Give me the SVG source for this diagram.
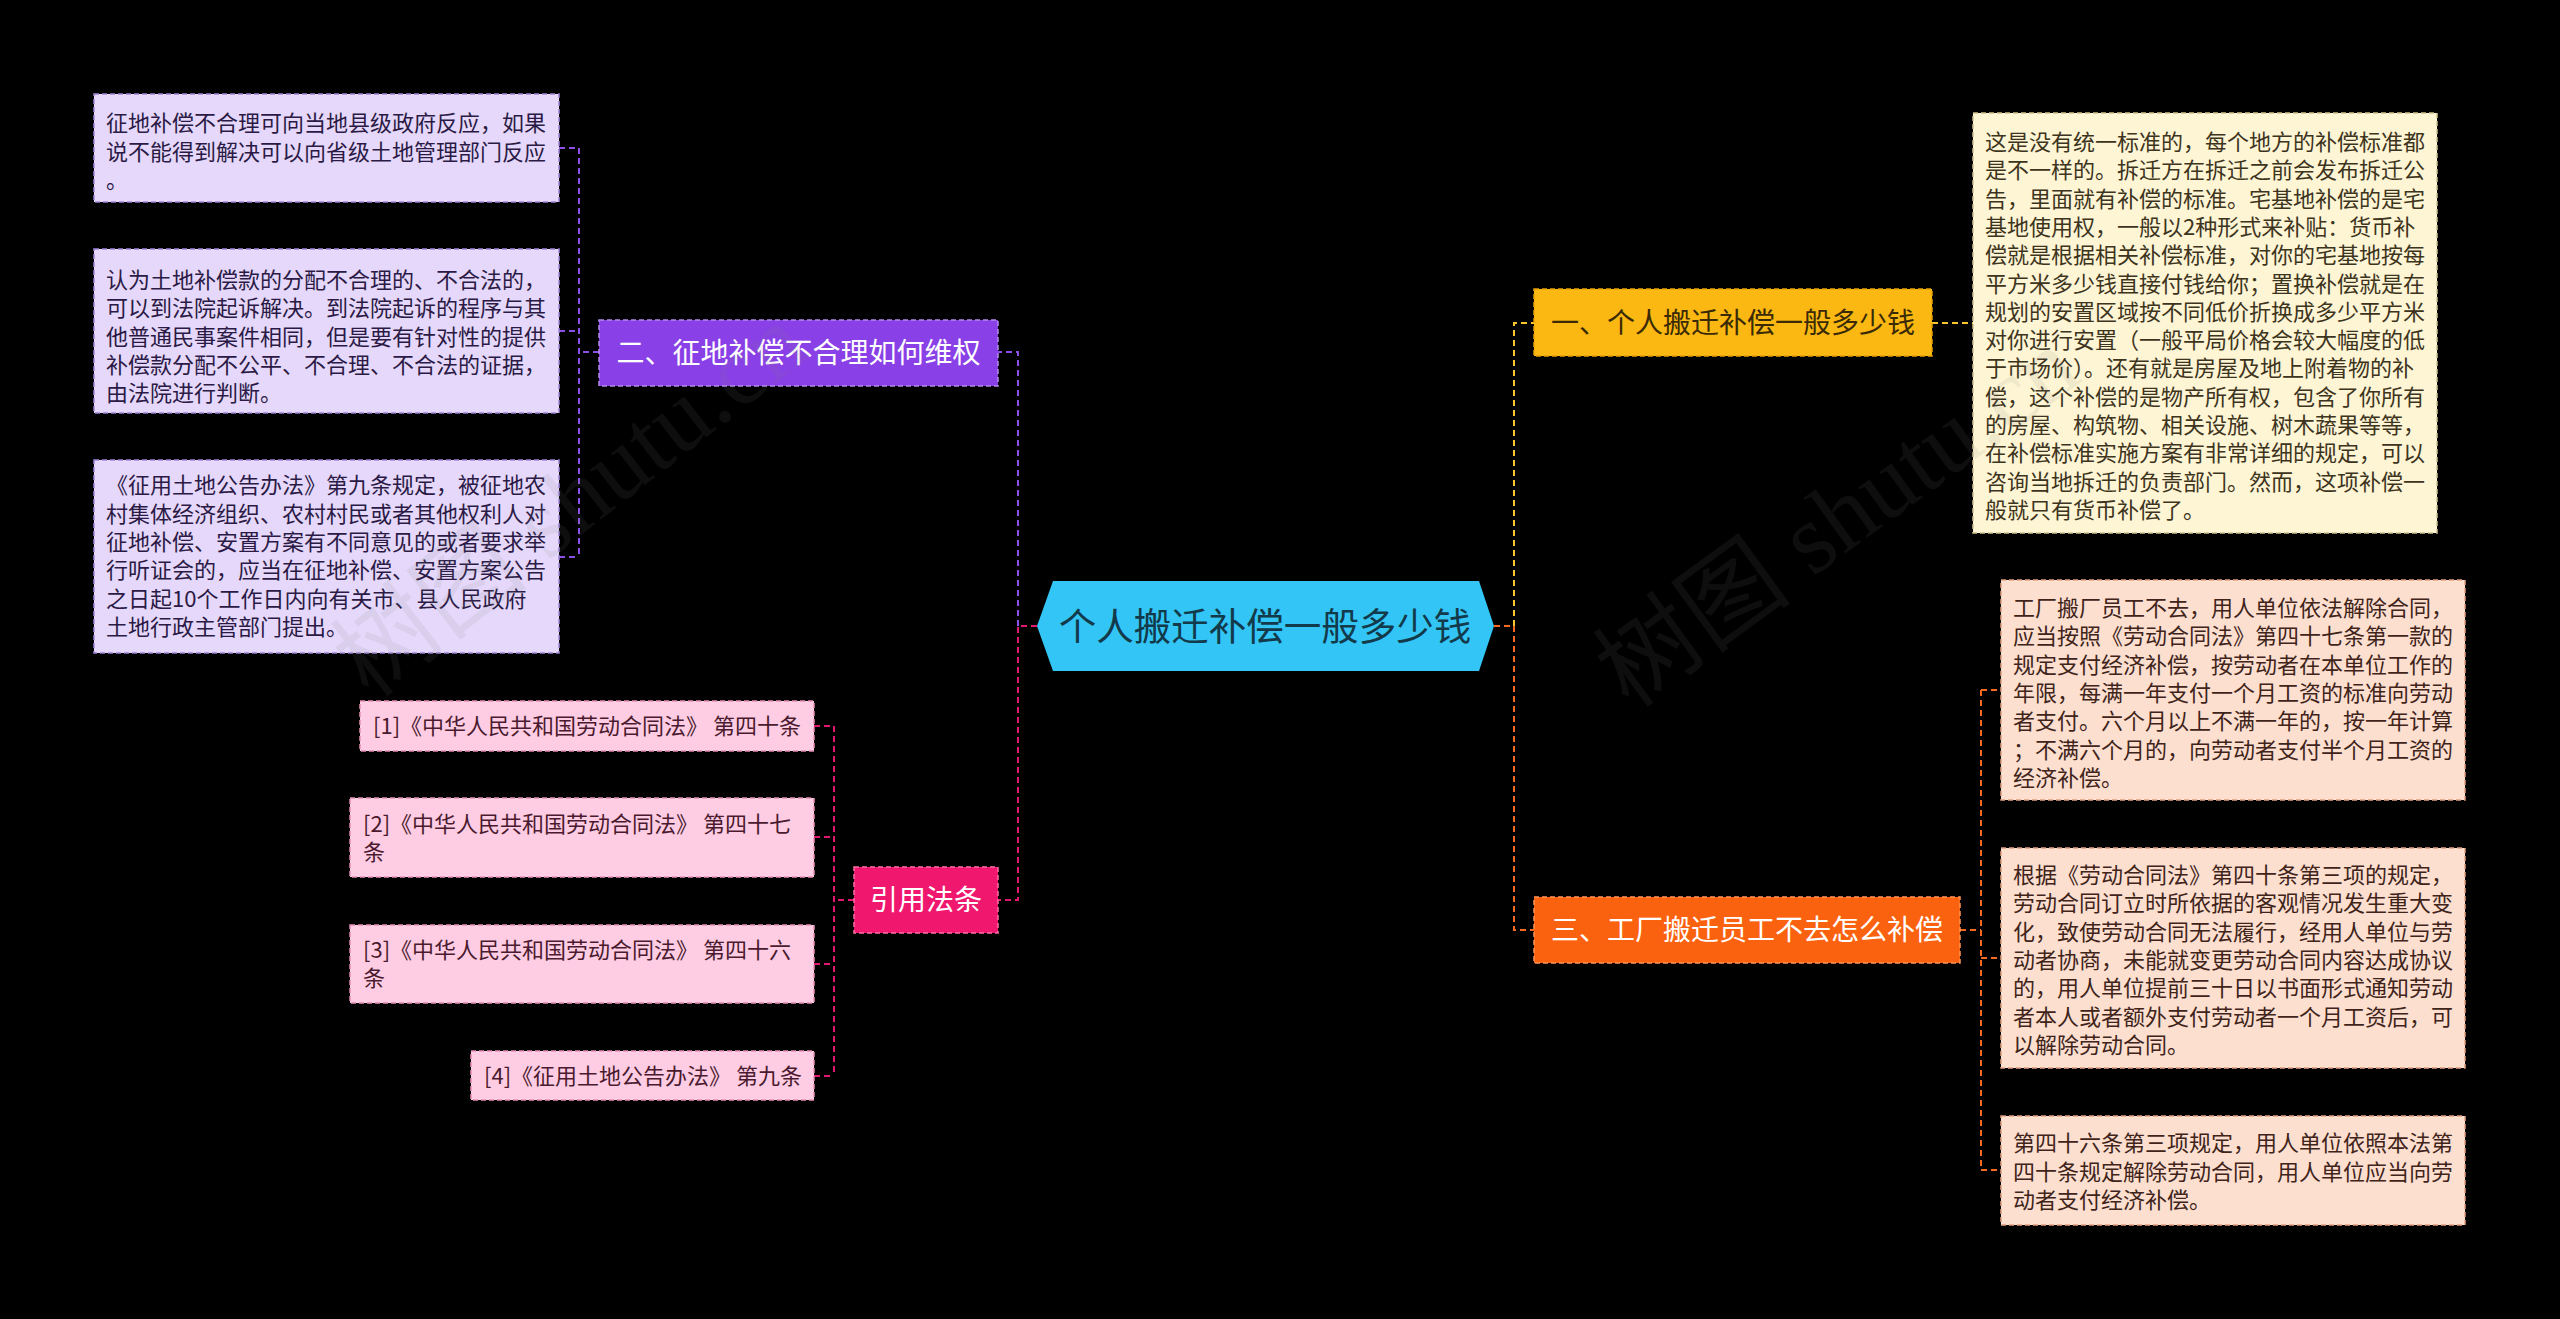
<svg xmlns="http://www.w3.org/2000/svg" width="2560" height="1319" viewBox="0 0 2560 1319">
<style>
text{font-family:"Noto Sans CJK SC","Noto Sans",sans-serif;}
.t22{font-size:22px;}
.t28{font-size:28px;}
.lav{fill:#E5D8FA;stroke:#9F84D6;stroke-width:1.5;stroke-dasharray:5 3;}
.lavt{fill:#2B1A45;}
.pnk{fill:#FFCDE3;stroke:#E58FB5;stroke-width:1.5;stroke-dasharray:5 3;}
.pnkt{fill:#4A1A2E;}
.crm{fill:#FEF5D5;stroke:#CFC08C;stroke-width:1.5;stroke-dasharray:5 3;}
.crmt{fill:#3D3420;}
.pch{fill:#FDDFD0;stroke:#E0A080;stroke-width:1.5;stroke-dasharray:5 3;}
.pcht{fill:#40241A;}
.con{fill:none;stroke-width:2;stroke-dasharray:6 4;}
.wm{font-family:"Liberation Serif","Noto Sans CJK SC",serif;font-size:100px;fill:#808080;fill-opacity:0.11;}
</style>
<rect x="0" y="0" width="2560" height="1319" fill="#000000"/>

<g id="connectors">
  <path class="con" stroke="#8C4FE8" d="M1018,626 V352 H998"/>
  <path class="con" stroke="#8C4FE8" d="M599,352 H579 M579,148 V557 M559,148 H579 M559,331 H579 M559,557 H579"/>
  <path class="con" stroke="#E2176F" d="M1037,626 H1018 V900 H998"/>
  <path class="con" stroke="#E2176F" d="M854,900 H834 M834,726 V1076 M814,726 H834 M814,837 H834 M814,964 H834 M814,1076 H834"/>
  <path class="con" stroke="#F7C62F" d="M1514,626 V323 H1534"/>
  <path class="con" stroke="#F7C62F" d="M1932,323 H1973"/>
  <path class="con" stroke="#F56A1E" d="M1494,626 H1514 V930 H1534"/>
  <path class="con" stroke="#F56A1E" d="M1960,930 H1981 M1981,690 V1170 M1981,690 H2001 M1981,958 H2001 M1981,1170 H2001"/>
</g>

<g id="center">
  <polygon points="1037,626 1053,581 1479,581 1494,626 1479,671 1053,671" fill="#32C5F5"/>
  <text x="1265" y="640" font-size="37.5" text-anchor="middle" fill="#123A4A">个人搬迁补偿一般多少钱</text>
</g>

<g id="branch2">
  <rect x="599" y="320" width="399" height="66" fill="#8940E6" stroke="#B48AF0" stroke-width="1.5" stroke-dasharray="5 3"/>
  <text class="t28" x="798.5" y="363" text-anchor="middle" fill="#FFFFFF">二、征地补偿不合理如何维权</text>
</g>

<g id="left1">
  <rect class="lav" x="94" y="94" width="465" height="108"/>
  <text class="t22 lavt"><tspan x="106" y="131">征地补偿不合理可向当地县级政府反应，如果</tspan><tspan x="106" y="160">说不能得到解决可以向省级土地管理部门反应</tspan><tspan x="106" y="188">。</tspan></text>
</g>

<g id="left2">
  <rect class="lav" x="94" y="249" width="465" height="164"/>
  <text class="t22 lavt"><tspan x="106" y="288">认为土地补偿款的分配不合理的、不合法的，</tspan><tspan x="106" y="316">可以到法院起诉解决。到法院起诉的程序与其</tspan><tspan x="106" y="344.5">他普通民事案件相同，但是要有针对性的提供</tspan><tspan x="106" y="373">补偿款分配不公平、不合理、不合法的证据，</tspan><tspan x="106" y="401">由法院进行判断。</tspan></text>
</g>

<g id="left3">
  <rect class="lav" x="94" y="460" width="465" height="193"/>
  <text class="t22 lavt"><tspan x="106" y="493">《征用土地公告办法》第九条规定，被征地农</tspan><tspan x="106" y="521.5">村集体经济组织、农村村民或者其他权利人对</tspan><tspan x="106" y="550">征地补偿、安置方案有不同意见的或者要求举</tspan><tspan x="106" y="578">行听证会的，应当在征地补偿、安置方案公告</tspan><tspan x="106" y="606.5">之日起10个工作日内向有关市、县人民政府</tspan><tspan x="106" y="635">土地行政主管部门提出。</tspan></text>
</g>

<g id="refs">
  <rect x="854" y="867" width="144" height="66" fill="#F0176F" stroke="#FF6FA6" stroke-width="1.5" stroke-dasharray="5 3"/>
  <text class="t28" x="926" y="910" text-anchor="middle" fill="#FFFFFF">引用法条</text>
</g>

<g id="ref1">
  <rect class="pnk" x="360" y="701" width="454" height="50"/>
  <text class="t22 pnkt" x="373" y="734">[1]《中华人民共和国劳动合同法》 第四十条</text>
</g>
<g id="ref2">
  <rect class="pnk" x="350" y="798" width="464" height="79"/>
  <text class="t22 pnkt"><tspan x="363" y="832">[2]《中华人民共和国劳动合同法》 第四十七</tspan><tspan x="363" y="860">条</tspan></text>
</g>
<g id="ref3">
  <rect class="pnk" x="350" y="925" width="464" height="78"/>
  <text class="t22 pnkt"><tspan x="363" y="958">[3]《中华人民共和国劳动合同法》 第四十六</tspan><tspan x="363" y="986">条</tspan></text>
</g>
<g id="ref4">
  <rect class="pnk" x="471" y="1051" width="343" height="49"/>
  <text class="t22 pnkt" x="484" y="1084">[4]《征用土地公告办法》 第九条</text>
</g>

<g id="branch1">
  <rect x="1534" y="289" width="398" height="67" fill="#FBB812" stroke="#E39E00" stroke-width="1.5" stroke-dasharray="5 3"/>
  <text class="t28" x="1733" y="333" text-anchor="middle" fill="#3A2A05">一、个人搬迁补偿一般多少钱</text>
</g>

<g id="right1">
  <rect class="crm" x="1973" y="113" width="464" height="420"/>
  <text class="t22 crmt"><tspan x="1985" y="150">这是没有统一标准的，每个地方的补偿标准都</tspan><tspan x="1985" y="178.3">是不一样的。拆迁方在拆迁之前会发布拆迁公</tspan><tspan x="1985" y="206.6">告，里面就有补偿的标准。宅基地补偿的是宅</tspan><tspan x="1985" y="234.9">基地使用权，一般以2种形式来补贴：货币补</tspan><tspan x="1985" y="263.2">偿就是根据相关补偿标准，对你的宅基地按每</tspan><tspan x="1985" y="291.5">平方米多少钱直接付钱给你；置换补偿就是在</tspan><tspan x="1985" y="319.8">规划的安置区域按不同低价折换成多少平方米</tspan><tspan x="1985" y="348.1">对你进行安置（一般平局价格会较大幅度的低</tspan><tspan x="1985" y="376.4">于市场价）。还有就是房屋及地上附着物的补</tspan><tspan x="1985" y="404.7">偿，这个补偿的是物产所有权，包含了你所有</tspan><tspan x="1985" y="433">的房屋、构筑物、相关设施、树木蔬果等等，</tspan><tspan x="1985" y="461.3">在补偿标准实施方案有非常详细的规定，可以</tspan><tspan x="1985" y="489.6">咨询当地拆迁的负责部门。然而，这项补偿一</tspan><tspan x="1985" y="517.9">般就只有货币补偿了。</tspan></text>
</g>

<g id="branch3">
  <rect x="1534" y="897" width="426" height="66" fill="#FB620F" stroke="#FF9455" stroke-width="1.5" stroke-dasharray="5 3"/>
  <text class="t28" x="1747" y="940" text-anchor="middle" fill="#FFFFFF">三、工厂搬迁员工不去怎么补偿</text>
</g>

<g id="right2">
  <rect class="pch" x="2001" y="580" width="464" height="220"/>
  <text class="t22 pcht"><tspan x="2013" y="616">工厂搬厂员工不去，用人单位依法解除合同，</tspan><tspan x="2013" y="644.3">应当按照《劳动合同法》第四十七条第一款的</tspan><tspan x="2013" y="672.6">规定支付经济补偿，按劳动者在本单位工作的</tspan><tspan x="2013" y="700.9">年限，每满一年支付一个月工资的标准向劳动</tspan><tspan x="2013" y="729.2">者支付。六个月以上不满一年的，按一年计算</tspan><tspan x="2013" y="757.5">；不满六个月的，向劳动者支付半个月工资的</tspan><tspan x="2013" y="785.8">经济补偿。</tspan></text>
</g>

<g id="right3">
  <rect class="pch" x="2001" y="848" width="464" height="220"/>
  <text class="t22 pcht"><tspan x="2013" y="883">根据《劳动合同法》第四十条第三项的规定，</tspan><tspan x="2013" y="911.3">劳动合同订立时所依据的客观情况发生重大变</tspan><tspan x="2013" y="939.6">化，致使劳动合同无法履行，经用人单位与劳</tspan><tspan x="2013" y="967.9">动者协商，未能就变更劳动合同内容达成协议</tspan><tspan x="2013" y="996.2">的，用人单位提前三十日以书面形式通知劳动</tspan><tspan x="2013" y="1024.5">者本人或者额外支付劳动者一个月工资后，可</tspan><tspan x="2013" y="1052.8">以解除劳动合同。</tspan></text>
</g>

<g id="right4">
  <rect class="pch" x="2001" y="1116" width="464" height="109"/>
  <text class="t22 pcht"><tspan x="2013" y="1151">第四十六条第三项规定，用人单位依照本法第</tspan><tspan x="2013" y="1179.5">四十条规定解除劳动合同，用人单位应当向劳</tspan><tspan x="2013" y="1208">动者支付经济补偿。</tspan></text>
</g>

<g id="watermarks">
  <text class="wm" transform="translate(370,700) rotate(-38)">树图 shutu.cn</text>
  <text class="wm" transform="translate(1630,710) rotate(-36)">树图 shutu.cn</text>
</g>
</svg>
